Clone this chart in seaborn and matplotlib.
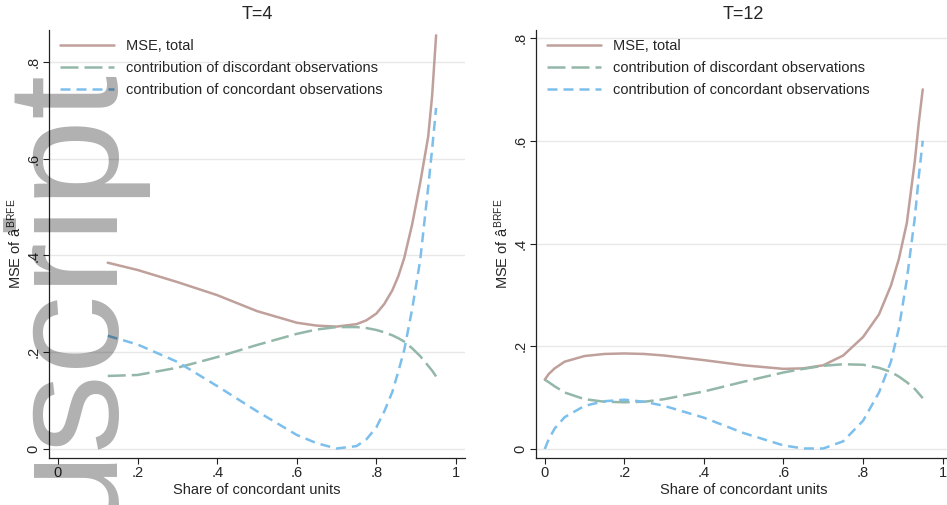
import numpy as np
import pandas as pd
import matplotlib
matplotlib.use("Agg")
import matplotlib.pyplot as plt
from matplotlib import font_manager
import seaborn as sns

# values
x_t4 = [0.125, 0.2, 0.3, 0.4, 0.5, 0.6, 0.65, 0.7, 0.75, 0.775, 0.8, 0.82, 0.84, 0.855, 0.87, 0.89, 0.91, 0.93, 0.94, 0.95]
total_t4 = [0.385, 0.370, 0.345, 0.318, 0.285, 0.261, 0.255, 0.253, 0.258, 0.266, 0.280, 0.300, 0.328, 0.357, 0.395, 0.465, 0.550, 0.645, 0.730, 0.855]
disc_t4 = [0.151, 0.153, 0.168, 0.190, 0.215, 0.238, 0.247, 0.252, 0.252, 0.250, 0.246, 0.241, 0.235, 0.229, 0.222, 0.208, 0.192, 0.172, 0.162, 0.150]
conc_t4 = [0.234, 0.216, 0.180, 0.130, 0.078, 0.029, 0.012, 0.001, 0.006, 0.020, 0.045, 0.078, 0.118, 0.160, 0.205, 0.290, 0.390, 0.540, 0.620, 0.705]

x_t12 = [0.0, 0.01, 0.025, 0.05, 0.1, 0.15, 0.2, 0.25, 0.3, 0.4, 0.5, 0.6, 0.65, 0.7, 0.75, 0.8, 0.84, 0.87, 0.89, 0.91, 0.93, 0.94, 0.95]
total_t12 = [0.135, 0.146, 0.157, 0.170, 0.181, 0.185, 0.186, 0.185, 0.182, 0.173, 0.163, 0.156, 0.157, 0.163, 0.182, 0.218, 0.262, 0.318, 0.370, 0.440, 0.560, 0.635, 0.700]
disc_t12 = [0.135, 0.130, 0.122, 0.110, 0.097, 0.092, 0.091, 0.092, 0.097, 0.112, 0.131, 0.149, 0.156, 0.162, 0.165, 0.164, 0.158, 0.150, 0.141, 0.130, 0.117, 0.108, 0.099]
conc_t12 = [0.0, 0.019, 0.040, 0.062, 0.084, 0.093, 0.096, 0.092, 0.084, 0.061, 0.031, 0.007, 0.001, 0.001, 0.015, 0.055, 0.110, 0.170, 0.235, 0.330, 0.450, 0.530, 0.600]

series_names = ["MSE, total",
                "contribution of discordant observations",
                "contribution of concordant observations"]
colors = ["#bfa09b", "#93b7a8", "#7dbfec"]
styles = ["-", (0, (7.2, 2.4)), (0, (4.0, 2.4))]

ytick_vals = [0, 0.2, 0.4, 0.6, 0.8]
ytick_labels = ["0", ".2", ".4", ".6", ".8"]
xtick_vals = [0, 0.2, 0.4, 0.6, 0.8, 1.0]
xtick_labels = ["0", ".2", ".4", ".6", ".8", "1"]

sns.set_theme(style="white")
plt.rcParams["font.family"] = ["Liberation Sans", "DejaVu Sans"]
plt.rcParams["mathtext.fontset"] = "custom"
plt.rcParams["mathtext.rm"] = "Liberation Sans"
plt.rcParams["mathtext.it"] = "Liberation Sans:italic"

fig = plt.figure(figsize=(9.47, 5.05), dpi=100)
ax1 = fig.add_axes([49 / 947, 47 / 505, 416 / 947, 428 / 505])
ax2 = fig.add_axes([536 / 947, 47 / 505, 415 / 947, 428 / 505])


def draw_panel(ax, x, ys, title, xlim, ylim):
    for name, y, c, ls in zip(series_names, ys, colors, styles):
        sns.lineplot(x=x, y=y, ax=ax, color=c, linestyle=ls, linewidth=1.8,
                     label=name, legend=False)
    ax.set_xlim(*xlim)
    ax.set_ylim(*ylim)
    ax.set_xticks(xtick_vals)
    ax.set_xticklabels(xtick_labels, fontsize=10.5)
    ax.set_yticks(ytick_vals)
    ax.set_yticklabels(ytick_labels, fontsize=10.5, rotation=90, va="center")
    ax.grid(axis="y", color="#e8e8e8", linewidth=1.0)
    ax.set_axisbelow(True)
    for s in ["top", "right"]:
        ax.spines[s].set_visible(False)
    for s in ["left", "bottom"]:
        ax.spines[s].set_color("#222222")
        ax.spines[s].set_linewidth(0.9)
    ax.tick_params(axis="both", direction="out", length=4, width=0.8,
                   color="#222222", left=True, bottom=True, pad=2)
    ax.set_xlabel("Share of concordant units", fontsize=10.5, labelpad=2)
    ax.set_ylabel(r"MSE of â$^{\,\mathrm{BRFE}}$", fontsize=10.5, labelpad=2)
    ax.set_title(title, fontsize=13, pad=8)
    w = ax.get_position().width * 947
    h = ax.get_position().height * 505
    ax.legend(loc="upper left", bbox_to_anchor=(11 / w, 1 - 9 / h),
              frameon=False, fontsize=10.5, handlelength=3.7,
              handletextpad=0.85, labelspacing=0.55, borderpad=0,
              borderaxespad=0)


draw_panel(ax1, x_t4, [total_t4, disc_t4, conc_t4], "T=4",
           (-0.0226, 1.0226), (-0.0186, 0.866))
draw_panel(ax2, x_t12, [total_t12, disc_t12, conc_t12], "T=12",
           (-0.022, 1.021), (-0.0175, 0.8156))

# faint watermark running up the left edge
wm_font = font_manager.FontProperties(
    fname=font_manager.findfont(font_manager.FontProperties(family="Liberation Sans")),
    size=114)
fig.text(108 / 947, (505 - 530) / 505, "uscript", rotation=90,
         rotation_mode="anchor", ha="left", va="baseline",
         fontproperties=wm_font, color="black", alpha=0.31, zorder=10)

fig.savefig("out.png", dpi=100)
